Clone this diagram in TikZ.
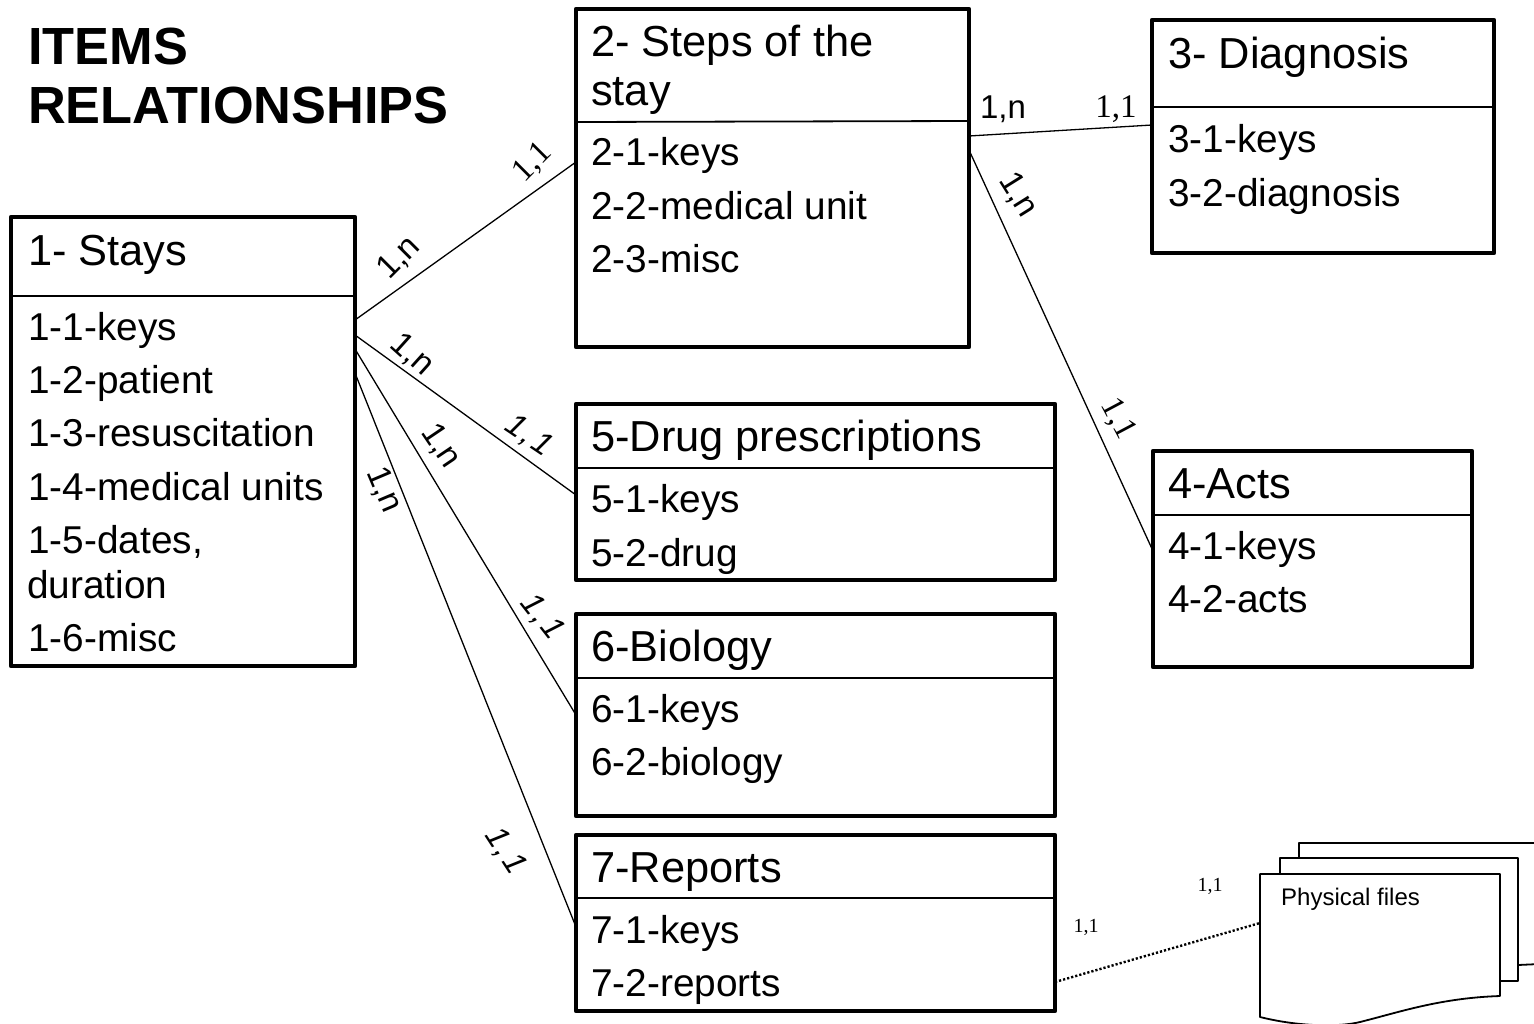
\documentclass[tikz,border=0pt]{standalone}
\usepackage{fontspec}
\setmainfont{Liberation Sans}
\newfontfamily\timesf{Liberation Serif}
\usetikzlibrary{calc}
\tikzset{
  x=1pt,y=-1pt,
  itembox/.style={draw=black,line width=4.4pt,line join=round,fill=white,inner sep=0pt,outer sep=0pt,anchor=north west},
  divider/.style={line width=1.8pt},
  link/.style={line width=1.3pt},
  dotlink/.style={line width=2.4pt,dash pattern=on 2.2pt off 2pt},
  sheet/.style={draw=black,line width=1.8pt,fill=white,line join=round},
  itxt/.style={anchor=base west,inner sep=0pt,font=\fontsize{38.8}{41}\selectfont},
  htxt/.style={anchor=base west,inner sep=0pt,font=\fontsize{43.4}{45}\selectfont},
  title/.style={anchor=base west,inner sep=0pt,font=\fontsize{52.3}{54}\selectfont\bfseries},
  card/.style={inner sep=0pt,font=\fontsize{33}{35}\selectfont},
  cardi/.style={inner sep=0pt,font=\fontsize{32}{34}\selectfont\itshape},
  cardt/.style={inner sep=0pt,font=\fontsize{33}{35}\selectfont\timesf},
  cardts/.style={inner sep=0pt,font=\fontsize{20}{22}\selectfont\timesf},
}
\begin{document}
\begin{tikzpicture}
\useasboundingbox (0,0) rectangle (1534,1023);
\clip (0,0) rectangle (1534,1023);
% boxes
\node[itembox,minimum width=344pt,minimum height=449pt] (b1) at (11,217) {};
\node[itembox,minimum width=393pt,minimum height=338pt] (b2) at (576,9) {};
\node[itembox,minimum width=342pt,minimum height=233pt] (b3) at (1152,20) {};
\node[itembox,minimum width=319pt,minimum height=216pt] (b4) at (1153,451) {};
\node[itembox,minimum width=479pt,minimum height=176pt] (b5) at (576,404) {};
\node[itembox,minimum width=479pt,minimum height=202pt] (b6) at (576,614) {};
\node[itembox,minimum width=479pt,minimum height=176pt] (b7) at (576,835) {};
% dividers
\draw[divider] (b1.west |- 0,296) -- (b1.east |- 0,296);
\draw[divider] (b2.west |- 0,122) -- (b2.east |- 0,121);
\draw[divider] (b3.west |- 0,107) -- (b3.east |- 0,107);
\draw[divider] (b4.west |- 0,515) -- (b4.east |- 0,515);
\draw[divider] (b5.west |- 0,468) -- (b5.east |- 0,468);
\draw[divider] (b6.west |- 0,678) -- (b6.east |- 0,678);
\draw[divider] (b7.west |- 0,898) -- (b7.east |- 0,898);
% title
\node[title] (t1) at (28,64) {ITEMS};
\node[title] (t2) at (28,123) {RELATIONSHIPS};
% box 1
\node[htxt] (a0) at (28,265) {1- Stays};
\node[itxt] (a1) at (28,340) {1-1-keys};
\node[itxt] (a2) at (28,393) {1-2-patient};
\node[itxt] (a3) at (28,446) {1-3-resuscitation};
\node[itxt] (a4) at (28,500) {1-4-medical units};
\node[itxt] (a5) at (28,553) {1-5-dates,};
\node[itxt] (a5b) at (27,598) {duration};
\node[itxt] (a6) at (28,651) {1-6-misc};
% box 2
\node[htxt] (c0) at (591,56) {2- Steps of the};
\node[htxt] (c0b) at (591,105) {stay};
\node[itxt] (c1) at (591,165) {2-1-keys};
\node[itxt] (c2) at (591,219) {2-2-medical unit};
\node[itxt] (c3) at (591,272) {2-3-misc};
% box 3
\node[htxt] (d0) at (1168,68) {3- Diagnosis};
\node[itxt] (d1) at (1168,152) {3-1-keys};
\node[itxt] (d2) at (1168,206) {3-2-diagnosis};
% box 4
\node[htxt] (e0) at (1168,498) {4-Acts};
\node[itxt] (e1) at (1168,559) {4-1-keys};
\node[itxt] (e2) at (1168,612) {4-2-acts};
% box 5
\node[htxt] (f0) at (591,451) {5-Drug prescriptions};
\node[itxt] (f1) at (591,512) {5-1-keys};
\node[itxt] (f2) at (591,566) {5-2-drug};
% box 6
\node[htxt] (g0) at (591,661) {6-Biology};
\node[itxt] (g1) at (591,722) {6-1-keys};
\node[itxt] (g2) at (591,775) {6-2-biology};
% box 7
\node[htxt] (h0) at (591,882) {7-Reports};
\node[itxt] (h1) at (591,943) {7-1-keys};
\node[itxt] (h2) at (591,996) {7-2-reports};
% physical files
\draw[sheet] (1299,860) -- (1299,843) -- (1540,843);
\draw[sheet] (1518,965) -- (1540,964);
\draw[sheet] (1280,876) -- (1280,858) -- (1518,858) -- (1518,981) -- (1498,981);
\draw[sheet] (1260,874) -- (1500,874) -- (1500,996)
  .. controls (1440,998) and (1400,1012) .. (1360,1022)
  .. controls (1340,1027) and (1300,1027) .. (1260,1017) -- cycle;
\node[anchor=base west,inner sep=0pt,font=\fontsize{24}{26}\selectfont] (pf) at (1281,905) {Physical files};
\coordinate (pfL) at (1260,923);
% connectors
\draw[link] (b1.east |- 0,320) -- (b2.west |- 0,162);
\draw[link] (b1.east |- 0,335) -- (b5.west |- 0,495);
\draw[link] (b1.east |- 0,349) -- (b6.west |- 0,715);
\draw[link] (b1.east |- 0,373) -- (b7.west |- 0,927);
\draw[link] (b2.east |- 0,136) -- (b3.west |- 0,125);
\draw[link] (b2.east |- 0,150) -- (b4.west |- 0,551);
\draw[dotlink] (b7.east |- 0,982) -- (pfL);
% cardinalities
\node[card,rotate=45] (l1) at (399,258) {1,n};
\node[cardt,rotate=45] (l2) at (533,163) {1,1};
\node[card,rotate=-42] (l3) at (412,355) {1,n};
\node[cardi,rotate=-34] (l4) at (529,436) {1\kern2pt,\kern3pt1};
\node[card,rotate=-56] (l5) at (441,446) {1,n};
\node[card,rotate=-67] (l6) at (384,490) {1,n};
\node[cardi,rotate=-52] (l7) at (542,617) {1\kern2pt,\kern3pt1};
\node[cardi,rotate=-57] (l8) at (505,851) {1\kern2pt,\kern3pt1};
\node[card] (l9) at (1003,109) {1,n};
\node[cardt] (l10) at (1116,109) {1,1};
\node[card,rotate=-58] (l11) at (1018,195) {1,n};
\node[cardt,rotate=-62] (l12) at (1118,419) {1,1};
\node[cardts] (l13) at (1086,927) {1,1};
\node[cardts] (l14) at (1210,886) {1,1};
\end{tikzpicture}
\end{document}
